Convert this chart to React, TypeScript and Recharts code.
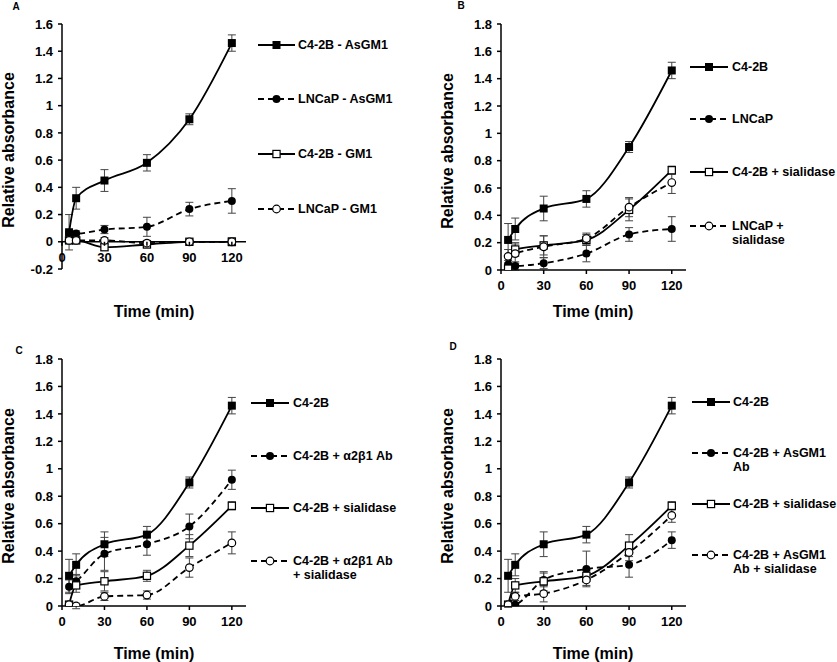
import { ErrorBar, Label, Legend, Line, LineChart, ReferenceLine, XAxis, YAxis } from "recharts";

const FONT = '"Liberation Sans", Arial, sans-serif';

const times = [5, 10, 30, 60, 90, 120];
const xTicks = [0, 30, 60, 90, 120];
const yTicksA = [-0.2, 0, 0.2, 0.4, 0.6, 0.8, 1, 1.2, 1.4, 1.6];
const yTicksRest = [0, 0.2, 0.4, 0.6, 0.8, 1, 1.2, 1.4, 1.6, 1.8];

// panel A
const c42bAsGM1 = [0.07, 0.32, 0.45, 0.58, 0.9, 1.46];
const c42bAsGM1Err = [0.13, 0.08, 0.08, 0.06, 0.04, 0.06];
const lncapAsGM1 = [0.06, 0.06, 0.09, 0.11, 0.24, 0.3];
const lncapAsGM1Err = [0.02, 0.02, 0.03, 0.07, 0.05, 0.09];
const c42bGM1 = [0.01, 0.01, -0.04, -0.02, 0, 0];
const c42bGM1Err = [0.02, 0.02, 0.02, 0.02, 0.01, 0.03];
const lncapGM1 = [0.01, 0.01, 0.01, -0.01, 0, 0];
const lncapGM1Err = [0.02, 0.02, 0.02, 0.02, 0.01, 0.02];

// shared C4-2B curves (B, C, D)
const c42b = [0.22, 0.3, 0.45, 0.52, 0.9, 1.46];
const c42bErr = [0.12, 0.08, 0.09, 0.06, 0.04, 0.06];
const c42bSia = [0.01, 0.15, 0.18, 0.22, 0.44, 0.73];
const c42bSiaErr = [0.01, 0.05, 0.07, 0.04, 0.08, 0.03];

// panel B
const lncap = [0.04, 0.03, 0.05, 0.12, 0.26, 0.3];
const lncapErr = [0.03, 0.03, 0.04, 0.06, 0.05, 0.09];
const lncapSia = [0.1, 0.12, 0.17, 0.23, 0.46, 0.64];
const lncapSiaErr = [0.05, 0.07, 0.08, 0.04, 0.07, 0.08];

// panel C
const c42bInt = [0.14, 0.18, 0.38, 0.45, 0.58, 0.92];
const c42bIntErr = [0.05, 0.05, 0.12, 0.08, 0.09, 0.07];
const c42bIntSia = [0.01, 0, 0.07, 0.08, 0.28, 0.46];
const c42bIntSiaErr = [0.01, 0.02, 0.03, 0.03, 0.07, 0.08];

// panel D
const c42bAsAb = [0, 0.01, 0.19, 0.27, 0.3, 0.48];
const c42bAsAbErr = [0.01, 0.01, 0.05, 0.13, 0.09, 0.06];
const c42bAsAbSia = [0.01, 0.07, 0.09, 0.19, 0.39, 0.66];
const c42bAsAbSiaErr = [0.01, 0.03, 0.06, 0.04, 0.06, 0.05];

type MarkerKind = "fsq" | "osq" | "fci" | "oci";

interface SeriesDef {
  key: string;
  label: string[];
  values: number[];
  errors: number[];
  marker: MarkerKind;
  dashed: boolean;
}

interface PanelDef {
  letter: string;
  letterPos: [number, number];
  left: number;
  top: number;
  width: number;
  height: number;
  margin: { top: number; right: number; bottom: number; left: number };
  yDomain: [number, number];
  yTicks: number[];
  crossAtZero: boolean;
  yTitle: [number, number];
  xTitle: [number, number];
  legendLine: [number, number, number];
  legendRows: number[];
  series: SeriesDef[];
}

function Marker({ kind, cx, cy }: { kind: MarkerKind; cx: number; cy: number }) {
  if (kind === "fsq") return <rect x={cx - 4} y={cy - 4} width={8} height={8} fill="#000" />;
  if (kind === "osq")
    return <rect x={cx - 3.6} y={cy - 3.6} width={7.2} height={7.2} fill="#fff" stroke="#000" strokeWidth={1.2} />;
  if (kind === "fci") return <circle cx={cx} cy={cy} r={4} fill="#000" />;
  return <circle cx={cx} cy={cy} r={3.8} fill="#fff" stroke="#000" strokeWidth={1.2} />;
}

const panels: PanelDef[] = [
  {
    letter: "A",
    letterPos: [16, 6],
    left: 0,
    top: 0,
    width: 420,
    height: 330,
    margin: { top: 24, right: 174, bottom: 31, left: 22 },
    yDomain: [-0.2, 1.6],
    yTicks: yTicksA,
    crossAtZero: true,
    yTitle: [8, 150],
    xTitle: [154, 311],
    legendLine: [258, 295, 298],
    legendRows: [45, 99, 154, 209],
    series: [
      { key: "c42bAsGM1", label: ["C4-2B - AsGM1"], values: c42bAsGM1, errors: c42bAsGM1Err, marker: "fsq", dashed: false },
      { key: "lncapAsGM1", label: ["LNCaP - AsGM1"], values: lncapAsGM1, errors: lncapAsGM1Err, marker: "fci", dashed: true },
      { key: "c42bGM1", label: ["C4-2B - GM1"], values: c42bGM1, errors: c42bGM1Err, marker: "osq", dashed: false },
      { key: "lncapGM1", label: ["LNCaP - GM1"], values: lncapGM1, errors: lncapGM1Err, marker: "oci", dashed: true },
    ],
  },
  {
    letter: "B",
    letterPos: [41, 5],
    left: 420,
    top: 0,
    width: 417,
    height: 330,
    margin: { top: 24, right: 151, bottom: 30, left: 41 },
    yDomain: [0, 1.8],
    yTicks: yTicksRest,
    crossAtZero: false,
    yTitle: [27, 151],
    xTitle: [173, 311],
    legendLine: [270, 308, 312],
    legendRows: [67, 119, 172, 226],
    series: [
      { key: "c42b", label: ["C4-2B"], values: c42b, errors: c42bErr, marker: "fsq", dashed: false },
      { key: "lncap", label: ["LNCaP"], values: lncap, errors: lncapErr, marker: "fci", dashed: true },
      { key: "c42bSia", label: ["C4-2B + sialidase"], values: c42bSia, errors: c42bSiaErr, marker: "osq", dashed: false },
      { key: "lncapSia", label: ["LNCaP +", "sialidase"], values: lncapSia, errors: lncapSiaErr, marker: "oci", dashed: true },
    ],
  },
  {
    letter: "C",
    letterPos: [19, 20],
    left: 0,
    top: 330,
    width: 420,
    height: 332,
    margin: { top: 29, right: 174, bottom: 26, left: 22 },
    yDomain: [0, 1.8],
    yTicks: yTicksRest,
    crossAtZero: false,
    yTitle: [8, 156],
    xTitle: [154, 323],
    legendLine: [251, 289, 293],
    legendRows: [73, 126, 178, 231],
    series: [
      { key: "c42b", label: ["C4-2B"], values: c42b, errors: c42bErr, marker: "fsq", dashed: false },
      { key: "c42bInt", label: ["C4-2B + \u03b12\u03b21 Ab"], values: c42bInt, errors: c42bIntErr, marker: "fci", dashed: true },
      { key: "c42bSia", label: ["C4-2B + sialidase"], values: c42bSia, errors: c42bSiaErr, marker: "osq", dashed: false },
      { key: "c42bIntSia", label: ["C4-2B + \u03b12\u03b21 Ab", "+ sialidase"], values: c42bIntSia, errors: c42bIntSiaErr, marker: "oci", dashed: true },
    ],
  },
  {
    letter: "D",
    letterPos: [33, 16],
    left: 420,
    top: 330,
    width: 417,
    height: 332,
    margin: { top: 29, right: 151, bottom: 26, left: 41 },
    yDomain: [0, 1.8],
    yTicks: yTicksRest,
    crossAtZero: false,
    yTitle: [27, 156],
    xTitle: [173, 323],
    legendLine: [272, 310, 313],
    legendRows: [72, 123, 174, 225],
    series: [
      { key: "c42b", label: ["C4-2B"], values: c42b, errors: c42bErr, marker: "fsq", dashed: false },
      { key: "c42bAsAb", label: ["C4-2B + AsGM1", "Ab"], values: c42bAsAb, errors: c42bAsAbErr, marker: "fci", dashed: true },
      { key: "c42bSia", label: ["C4-2B + sialidase"], values: c42bSia, errors: c42bSiaErr, marker: "osq", dashed: false },
      { key: "c42bAsAbSia", label: ["C4-2B + AsGM1", "Ab + sialidase"], values: c42bAsAbSia, errors: c42bAsAbSiaErr, marker: "oci", dashed: true },
    ],
  },
];

const boldText = { fontFamily: FONT, fontWeight: 700, fill: "#000" };

function LegendOverlay({ panel }: { panel: PanelDef }) {
  const [x1, x2, tx] = panel.legendLine;
  return (
    <svg width={panel.width} height={panel.height} style={{ display: "block" }}>
      <text x={panel.letterPos[0]} y={panel.letterPos[1]} textAnchor="middle" dominantBaseline="central" fontSize={10} {...boldText}>
        {panel.letter}
      </text>
      {panel.series.map((s, i) => {
        const y = panel.legendRows[i];
        return (
          <g key={s.key}>
            <line x1={x1} x2={x2} y1={y} y2={y} stroke="#000" strokeWidth={1.8} strokeDasharray={s.dashed ? "6 4" : undefined} />
            <Marker kind={s.marker} cx={(x1 + x2) / 2} cy={y} />
            {s.label.map((ln, j) => (
              <text key={j} x={tx} y={y + j * 14} dominantBaseline="central" fontSize={12.5} {...boldText}>
                {ln}
              </text>
            ))}
          </g>
        );
      })}
    </svg>
  );
}

function Panel({ panel }: { panel: PanelDef }) {
  const rows = times.map((t, i) => {
    const row: Record<string, number> = { time: t };
    panel.series.forEach((s) => {
      row[s.key] = s.values[i];
      row[`${s.key}Err`] = s.errors[i];
    });
    return row;
  });

  const plotHeight = panel.height - panel.margin.top - panel.margin.bottom - 30;
  const zeroShift = panel.crossAtZero
    ? (plotHeight * (0 - panel.yDomain[0])) / (panel.yDomain[1] - panel.yDomain[0])
    : 0;

  const crossTick = (p: any) => {
    const axisY = p.y - 11 - zeroShift;
    return (
      <g>
        <line x1={p.x} x2={p.x} y1={axisY} y2={axisY + 4} stroke="#000" strokeWidth={1.5} />
        <text x={p.x} y={axisY + 11} dy="0.71em" textAnchor="middle" fontSize={13} {...boldText}>
          {p.payload.value}
        </text>
      </g>
    );
  };

  return (
    <div style={{ position: "absolute", left: panel.left, top: panel.top }}>
      <LineChart width={panel.width} height={panel.height} data={rows} margin={panel.margin}>
        <XAxis
          dataKey="time"
          type="number"
          domain={[0, 130]}
          ticks={xTicks}
          height={30}
          tickSize={4}
          tickMargin={7}
          axisLine={panel.crossAtZero ? false : { stroke: "#000", strokeWidth: 1.5 }}
          tickLine={panel.crossAtZero ? false : { stroke: "#000", strokeWidth: 1.5 }}
          tick={panel.crossAtZero ? crossTick : { fontSize: 13, ...boldText }}
        >
          <Label
            content={() => (
              <text x={panel.xTitle[0]} y={panel.xTitle[1]} textAnchor="middle" dominantBaseline="central" fontSize={16} {...boldText}>
                Time (min)
              </text>
            )}
          />
        </XAxis>
        <YAxis
          type="number"
          domain={panel.yDomain}
          ticks={panel.yTicks}
          width={40}
          tickSize={4}
          tickMargin={5}
          allowDataOverflow
          axisLine={{ stroke: "#000", strokeWidth: 1.5 }}
          tickLine={{ stroke: "#000", strokeWidth: 1.5 }}
          tick={{ fontSize: 13, ...boldText }}
        >
          <Label
            content={() => (
              <text
                x={panel.yTitle[0]}
                y={panel.yTitle[1]}
                transform={`rotate(-90 ${panel.yTitle[0]} ${panel.yTitle[1]})`}
                textAnchor="middle"
                dominantBaseline="central"
                fontSize={16}
                {...boldText}
              >
                Relative absorbance
              </text>
            )}
          />
        </YAxis>
        {panel.crossAtZero && <ReferenceLine y={0} stroke="#000" strokeWidth={1.5} />}
        {panel.series.map((s) => (
          <Line
            key={s.key}
            dataKey={s.key}
            type="monotone"
            stroke="#000"
            strokeWidth={1.8}
            strokeDasharray={s.dashed ? "6 4" : undefined}
            isAnimationActive={false}
            dot={(p: any) => <Marker key={p.index} kind={s.marker} cx={p.cx} cy={p.cy} />}
            activeDot={false}
          >
            <ErrorBar dataKey={`${s.key}Err`} direction="y" width={4} stroke="#444" strokeWidth={1} isAnimationActive={false} />
          </Line>
        ))}
        <Legend
          layout="vertical"
          align="center"
          verticalAlign="middle"
          wrapperStyle={{ left: 0, top: 0, width: panel.width, height: panel.height, margin: 0 }}
          content={() => <LegendOverlay panel={panel} />}
        />
      </LineChart>
    </div>
  );
}

export default function App() {
  return (
    <div style={{ position: "absolute", left: 0, top: 0, width: 837, height: 662, background: "#fff" }}>
      {panels.map((p) => (
        <Panel key={p.letter} panel={p} />
      ))}
    </div>
  );
}
